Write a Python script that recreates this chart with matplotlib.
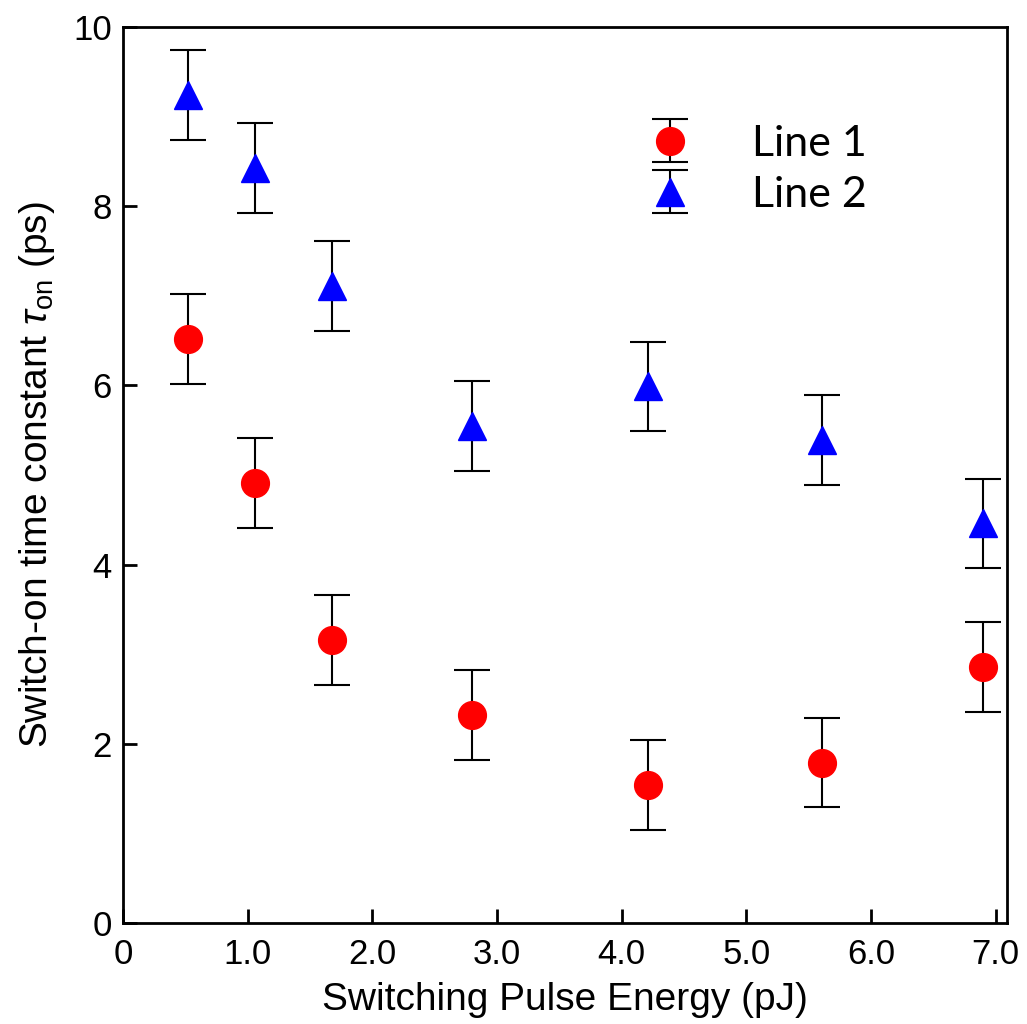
import matplotlib
matplotlib.use("Agg")
import matplotlib.pyplot as plt

plt.rcParams['font.family'] = ['Liberation Sans', 'DejaVu Sans']
plt.rcParams['mathtext.fontset'] = 'custom'
plt.rcParams['mathtext.rm'] = 'Liberation Sans'
plt.rcParams['mathtext.it'] = 'Liberation Sans:italic'

# data
energy = [0.52, 1.06, 1.68, 2.80, 4.21, 5.61, 6.90]
line1 = [6.52, 4.91, 3.16, 2.32, 1.54, 1.79, 2.86]
line2 = [9.24, 8.43, 7.11, 5.55, 5.99, 5.39, 4.46]
err1 = [0.5, 0.5, 0.5, 0.5, 0.5, 0.5, 0.5]
err2 = [0.5, 0.5, 0.5, 0.5, 0.5, 0.5, 0.5]

xticks = [0, 1, 2, 3, 4, 5, 6, 7]
xticklabels = ['0', '1.0', '2.0', '3.0', '4.0', '5.0', '6.0', '7.0']
yticks = [0, 2, 4, 6, 8, 10]

fig = plt.figure(figsize=(10.27, 10.24), dpi=100)
ax = fig.add_axes([0.1198, 0.0986, 0.8607, 0.875])

ax.errorbar(energy, line1, yerr=err1, fmt='o', color='red', ms=20,
            ecolor='black', elinewidth=1.5, capsize=13, capthick=1.5, label='Line 1')
ax.errorbar(energy, line2, yerr=err2, fmt='^', color='blue', ms=20,
            ecolor='black', elinewidth=1.5, capsize=13, capthick=1.5, label='Line 2')

ax.set_xlim(0, 7.09)
ax.set_ylim(0, 10)
ax.set_xticks(xticks)
ax.set_xticklabels(xticklabels)
ax.set_yticks(yticks)
ax.tick_params(direction='in', length=10, width=2, labelsize=25, pad=8)
ax.tick_params(axis='x', pad=11)
for s in ax.spines.values():
    s.set_linewidth(2)

ax.set_xlabel('Switching Pulse Energy (pJ)', fontsize=28, labelpad=8)
ax.set_ylabel(r'Switch-on time constant $\mathit{\tau}_{\mathrm{on}}$ (ps)', fontsize=28, labelpad=12)

leg = ax.legend(loc='upper left', bbox_to_anchor=(0.526, 0.934), frameon=False,
                prop={'family': 'Lato', 'size': 31}, handletextpad=0.9,
                labelspacing=0.3)

fig.savefig('out.png', dpi=100)
